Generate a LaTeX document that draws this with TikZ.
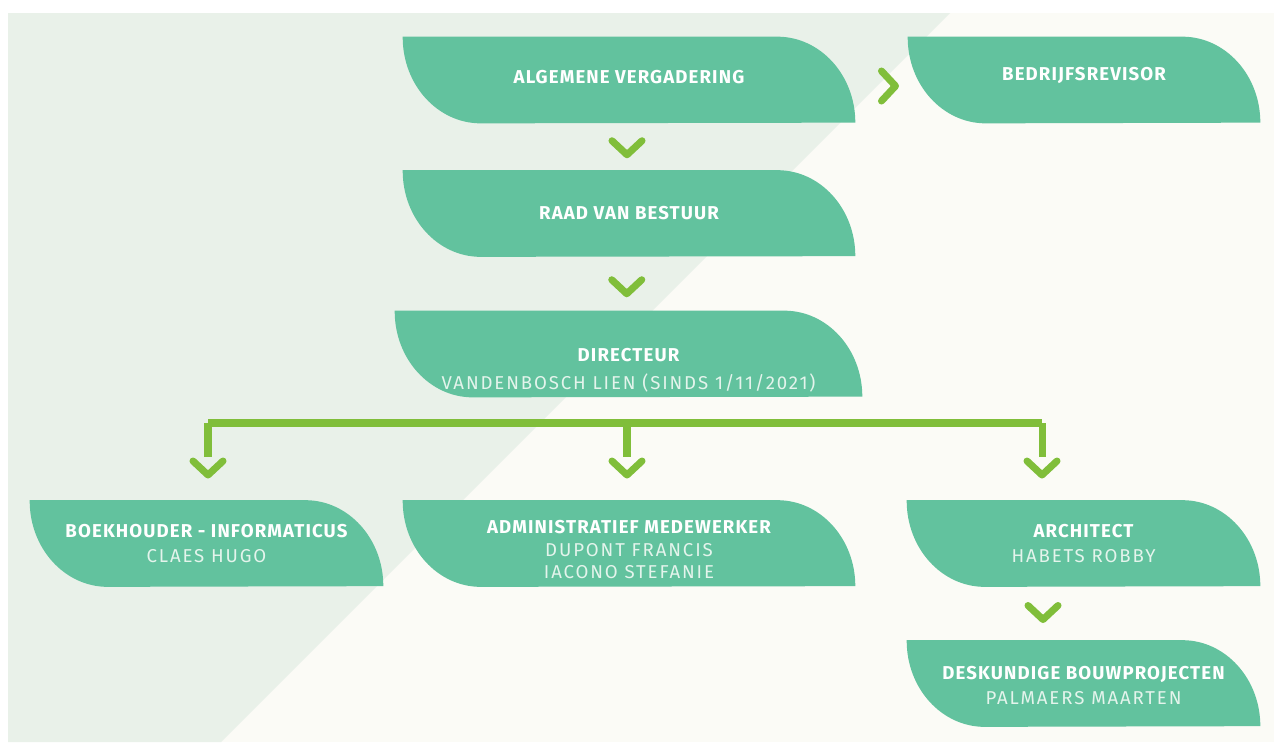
\documentclass[tikz,border=0pt]{standalone}
\usepackage{fontspec}
\setmainfont{Fira Sans}
\newfontfamily\titlefont[LetterSpace=6]{Fira Sans}
\newfontfamily\namefont[LetterSpace=10]{Fira Sans}
\usetikzlibrary{backgrounds,calc}

\definecolor{panelgreen}{HTML}{E9F1E9}
\definecolor{paneloff}{HTML}{FBFBF6}
\definecolor{leafgreen}{HTML}{62C29E}
\definecolor{limegreen}{HTML}{80BE3A}
\definecolor{nametext}{HTML}{E4F4EC}

\tikzset{
    leaf/.style={minimum width=#1, minimum height=1.72cm, inner sep=0pt},
    title/.style={text=white, align=center, inner sep=0pt,
        font=\titlefont\fontsize{10.6}{13}\selectfont\bfseries},
    link/.style={draw=limegreen, line width=4pt},
    chevdown/.pic={\draw[limegreen, line width=4pt, line cap=round, line join=round]
        (-15,7) -- (0,-7) -- (15,7);},
    chevright/.pic={\draw[limegreen, line width=4pt, line cap=round, line join=round]
        (-7,15) -- (7,0) -- (-7,-15);},
}
\newcommand{\person}[1]{{\namefont\mdseries\color{nametext}#1}}

\begin{document}
\begin{tikzpicture}[x=0.02cm, y=0.02cm]
    \useasboundingbox (0,0) rectangle (1274,-745);

    % boxes
    \node[leaf=9.04cm] (alg) at (629,-80) {};
    \node[leaf=7.04cm] (bedr) at (1084,-80) {};
    \node[leaf=9.04cm] (raad) at (629,-213.5) {};
    \node[leaf=9.34cm] (dir) at (628.5,-354) {};
    \node[leaf=7.06cm] (boek) at (206.5,-543.5) {};
    \node[leaf=9.04cm] (adm) at (629,-543.5) {};
    \node[leaf=7.06cm] (arch) at (1083.5,-543.5) {};
    \node[leaf=7.06cm] (desk) at (1083.5,-683.5) {};

    % texts
    \node[title] (alg-t) at ([yshift=0.06cm]alg) {ALGEMENE VERGADERING};
    \node[title] (bedr-t) at ([yshift=0.1cm]bedr) {BEDRIJFSREVISOR};
    \node[title] (raad-t) at (raad) {RAAD VAN BESTUUR};
    \node[title] (dir-t) at ([yshift=-0.32cm]dir) {DIRECTEUR\\[3pt]\person{VANDENBOSCH LIEN (SINDS 1/11/2021)}};
    \node[title] (boek-t) at (boek) {BOEKHOUDER - INFORMATICUS\\[1pt]\person{CLAES HUGO}};
    \node[title] (adm-t) at ([yshift=-0.12cm]adm) {ADMINISTRATIEF MEDEWERKER\\\person{DUPONT FRANCIS}\\\person{IACONO STEFANIE}};
    \node[title] (arch-t) at (arch) {ARCHITECT\\[1pt]\person{HABETS ROBBY}};
    \node[title] (desk-t) at ([yshift=-0.04cm]desk) {DESKUNDIGE BOUWPROJECTEN\\[1pt]\person{PALMAERS MAARTEN}};

    % chevrons between boxes
    \pic at ($(alg.south)!0.5!(raad.north)+(-2,-1)$) {chevdown};
    \pic at ($(raad.south)!0.5!(dir.north)+(-2,-3)$) {chevdown};
    \pic at ($(alg.east)!0.5!(bedr.west)+(7,-6)$) {chevright};

    % split below the director
    \coordinate (busL) at (208,-423);
    \coordinate (bus) at (627,-423);
    \coordinate (busR) at (1042,-423);
    \draw[link] (busL) -- (busR);
    \foreach \c in {busL,bus,busR} {
        \draw[link] (\c) -- ++(0,-34);
        \pic at ([shift={(0,-45)}]\c) {chevdown};
    }
    \pic at ($(busR |- arch.south)!0.5!(busR |- desk.north)+(1,1)$) {chevdown};

    % panel and leaf shapes behind everything
    \begin{scope}[on background layer]
        \fill[white] (0,0) rectangle (1274,-745);
        \fill[paneloff] (8,-13) rectangle (1274,-742);
        \fill[panelgreen] (8,-13) -- (950,-13) -- (221,-742) -- (8,-742) -- cycle;
        \foreach \n in {alg,bedr,raad,dir,boek,adm,arch,desk}
            \fill[leafgreen] (\n.north west) -- ([xshift=-1.56cm]\n.north east)
                arc[start angle=90, end angle=0, x radius=1.56cm, y radius=1.72cm]
                -- ([xshift=1.56cm]\n.south west)
                arc[start angle=270, end angle=180, x radius=1.56cm, y radius=1.72cm]
                -- cycle;
    \end{scope}
\end{tikzpicture}
\end{document}
